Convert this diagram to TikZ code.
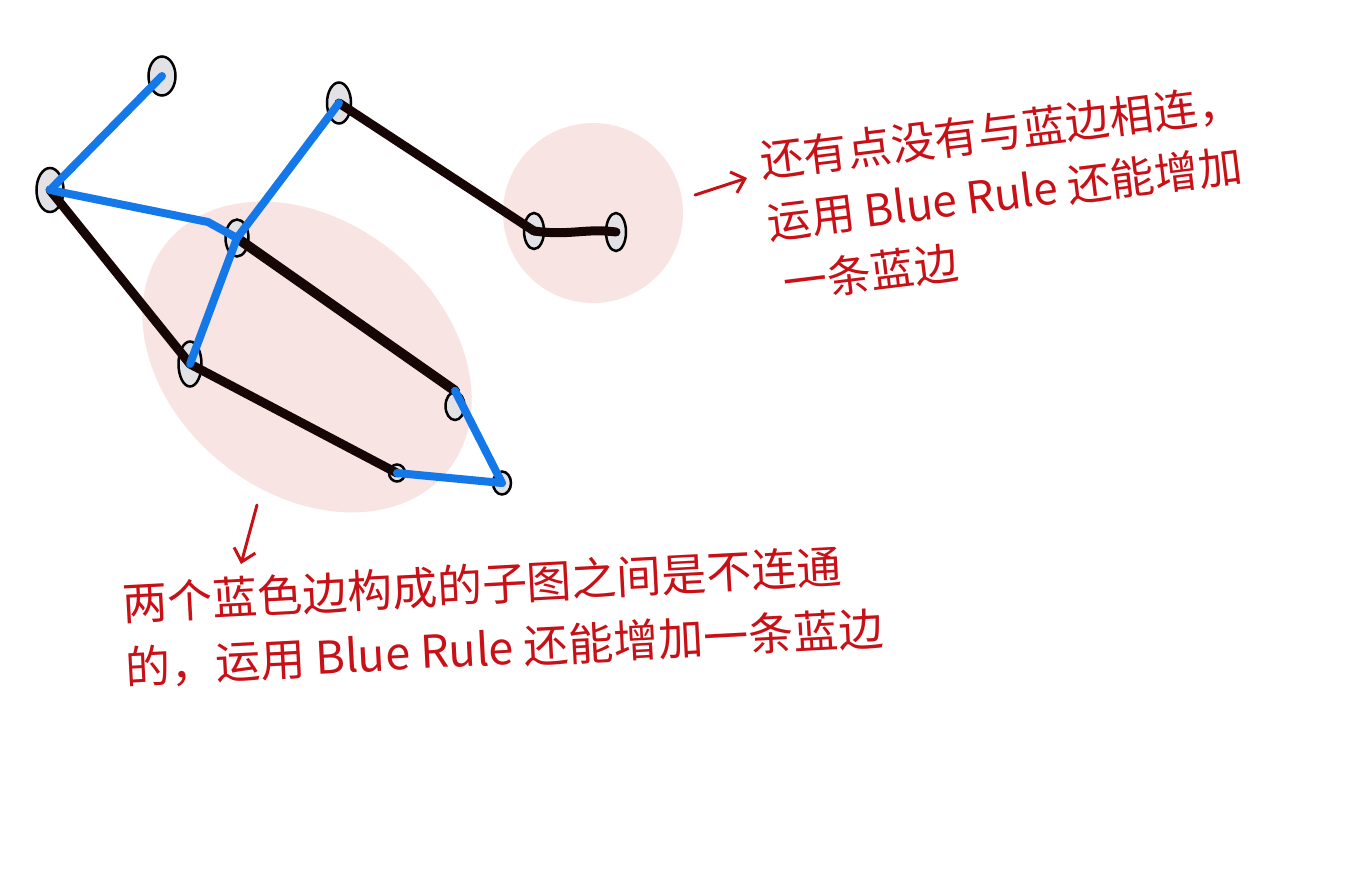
\documentclass[tikz,border=0pt]{standalone}
\usepackage{fontspec}
\newfontfamily\cjk{Noto Sans CJK SC}
\usetikzlibrary{shapes.geometric,arrows.meta}
\definecolor{edgeblue}{RGB}{20,120,232}
\definecolor{edgeblack}{RGB}{22,6,6}
\definecolor{notered}{RGB}{200,16,22}
\definecolor{blobpink}{RGB}{249,228,228}
\definecolor{vtxgray}{RGB}{226,226,230}
\tikzset{
  vtx/.style={ellipse, draw=black, line width=2.5pt, fill=vtxgray, inner sep=0pt},
  blueedge/.style={edgeblue, line width=8pt, line cap=round, line join=round},
  blackedge/.style={edgeblack, line width=9pt, line cap=round, line join=round},
  note/.style={text=notered, inner sep=0pt, align=left},
  notearrow/.style={notered, line width=3pt, line cap=round, -{Straight Barb[length=12pt,width=22pt]}},
}
\begin{document}
\begin{tikzpicture}[x=1pt,y=1pt,yscale=-1]
    \useasboundingbox (0,0) rectangle (1347,879);
    % pink blobs
    \fill[blobpink] (307,357) ellipse [x radius=181, y radius=136, rotate=39];
    \fill[blobpink] (593,213) circle [radius=90];
    % vertices
    \node[vtx, minimum width=27pt, minimum height=39pt] (v1) at (162,76) {};
    \node[vtx, minimum width=27pt, minimum height=44pt] (v2) at (50,190) {};
    \node[vtx, minimum width=24pt, minimum height=41pt] (v3) at (339,103) {};
    \node[vtx, minimum width=23pt, minimum height=37pt] (v4) at (237,238) {};
    \node[vtx, minimum width=23pt, minimum height=45pt] (v5) at (190,364) {};
    \node[vtx, minimum width=19pt, minimum height=28pt] (v6) at (455,406) {};
    \node[vtx, minimum width=16pt, minimum height=17pt] (v7) at (397,473) {};
    \node[vtx, minimum width=18pt, minimum height=23pt] (v8) at (502,483) {};
    \node[vtx, minimum width=20pt, minimum height=36pt] (v9) at (534,231) {};
    \node[vtx, minimum width=20pt, minimum height=38pt] (v10) at (616,232) {};
    \coordinate (kink) at (208,222);
    % black edges
    \draw[blackedge] (v2.center) -- (v5.center) -- (v7.center);
    \draw[blackedge, line width=10pt] (v4.center) -- (v6.north);
    \draw[blackedge] (v3.center) -- (v9.center);
    \draw[blackedge] (v9.center) .. controls (570,236) and (585,228) .. (v10.center);
    % blue edges
    \draw[blueedge] (v1.center) -- (v2.center);
    \draw[blueedge] (v2.center) -- (kink) -- (v4.center);
    \draw[blueedge] (v3.center) -- (v4.center) -- (v5.center);
    \draw[blueedge] (v6.north) -- (v8.center) -- (v7.center);
    % notes
    \node[note, rotate=7, font=\cjk\fontsize{44}{62}\selectfont] (rnote) at (1008,193)
        {还有点没有与蓝边相连，\\运用 Blue Rule 还能增加\\\hspace{8pt}一条蓝边};
    \node[note, rotate=3, font=\cjk\fontsize{45}{64}\selectfont] (bnote) at (503,616)
        {两个蓝色边构成的子图之间是不连通\\的，运用 Blue Rule 还能增加一条蓝边};
    \coordinate (ra) at (695,195);
    \coordinate (rb) at (747,178);
    \coordinate (da) at (257,505);
    \coordinate (db) at (241,564);
    \draw[notearrow] (ra) -- (rb);
    \draw[notearrow] (da) -- (db);
\end{tikzpicture}
\end{document}
